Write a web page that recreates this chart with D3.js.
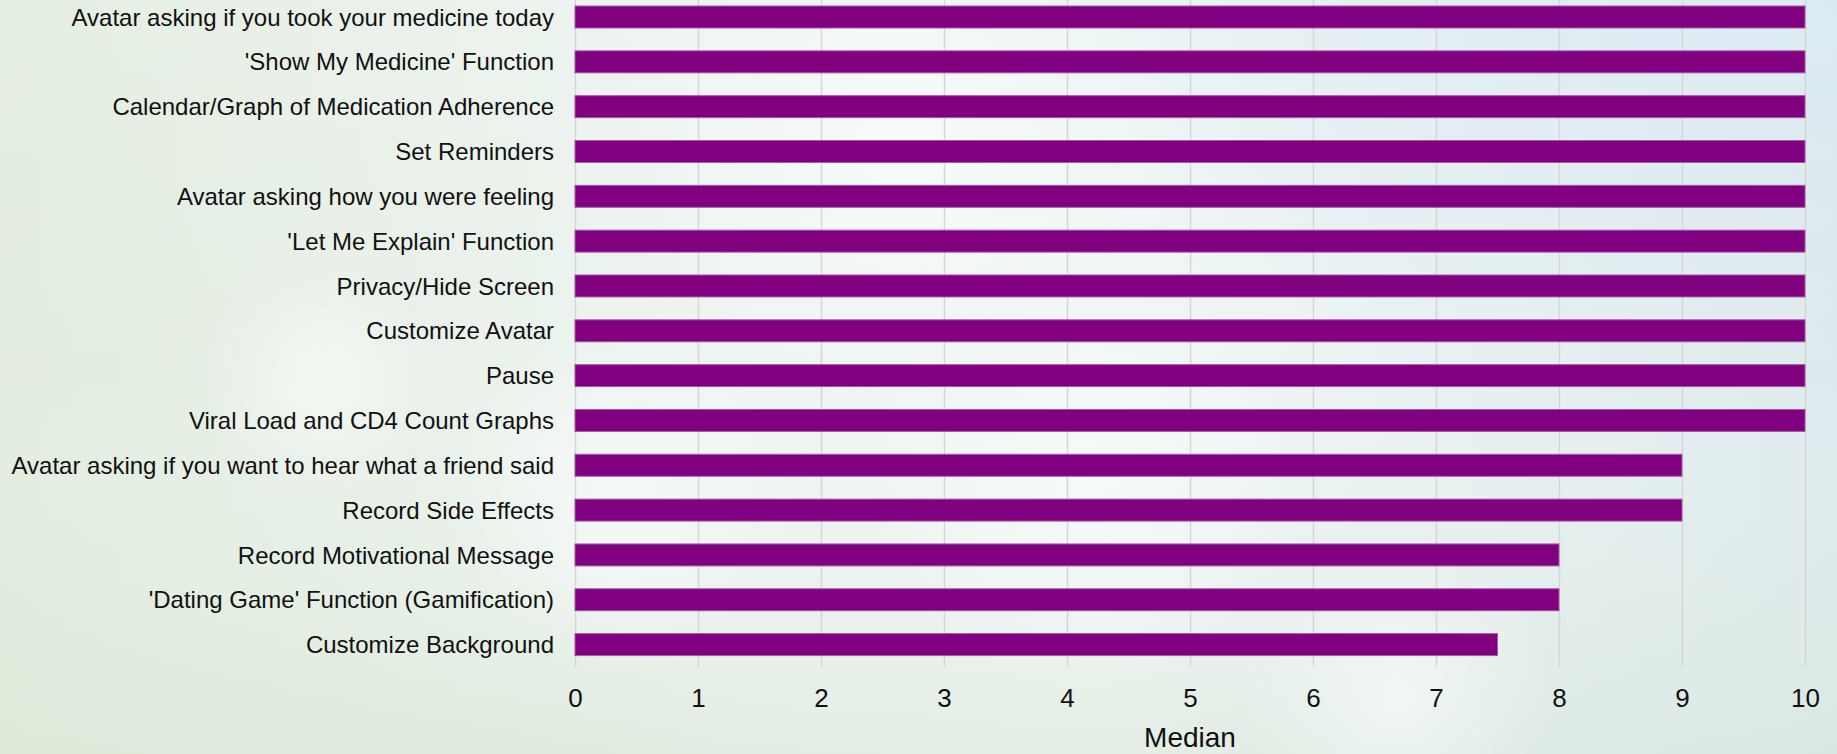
<!DOCTYPE html>
<html>
<head>
<meta charset="utf-8">
<script src="https://cdn.jsdelivr.net/npm/d3@7"></script>
<style>
  html, body { margin: 0; padding: 0; overflow: hidden; }
  svg { display: block; }
  text { font-family: "Liberation Sans", Arial, sans-serif; fill: #111; }
</style>
</head>
<body>
<svg id="chart" width="1837" height="754"></svg>
<script>
// chart data, top to bottom
var features = [
  "Avatar asking if you took your medicine today",
  "'Show My Medicine' Function",
  "Calendar/Graph of Medication Adherence",
  "Set Reminders",
  "Avatar asking how you were feeling",
  "'Let Me Explain' Function",
  "Privacy/Hide Screen",
  "Customize Avatar",
  "Pause",
  "Viral Load and CD4 Count Graphs",
  "Avatar asking if you want to hear what a friend said",
  "Record Side Effects",
  "Record Motivational Message",
  "'Dating Game' Function (Gamification)",
  "Customize Background"
];
var medians = [10, 10, 10, 10, 10, 10, 10, 10, 10, 10, 9, 9, 8, 8, 7.5];
var xTicks = [0, 1, 2, 3, 4, 5, 6, 7, 8, 9, 10];

var svg = d3.select("#chart"),
    width = +svg.attr("width"),
    height = +svg.attr("height");

var data = features.map(function(f, i) { return { name: f, value: medians[i] }; });

// background: soft green / white / blue wash
var defs = svg.append("defs");
var bgH = defs.append("linearGradient").attr("id", "bgH")
  .attr("x1", "0").attr("y1", "0").attr("x2", "1").attr("y2", "0");
bgH.append("stop").attr("offset", "0%").attr("stop-color", "#dfeadb");
bgH.append("stop").attr("offset", "40%").attr("stop-color", "#ebf3ef");
bgH.append("stop").attr("offset", "62%").attr("stop-color", "#edf5f3");
bgH.append("stop").attr("offset", "100%").attr("stop-color", "#dae8ec");

var bgV = defs.append("linearGradient").attr("id", "bgV")
  .attr("x1", "0").attr("y1", "0").attr("x2", "0").attr("y2", "1");
bgV.append("stop").attr("offset", "0%").attr("stop-color", "#ffffff").attr("stop-opacity", 0.2);
bgV.append("stop").attr("offset", "50%").attr("stop-color", "#ffffff").attr("stop-opacity", 0.12);
bgV.append("stop").attr("offset", "100%").attr("stop-color", "#d8e6d4").attr("stop-opacity", 0.45);

var glow = defs.append("radialGradient").attr("id", "glow");
glow.append("stop").attr("offset", "0%").attr("stop-color", "#ffffff").attr("stop-opacity", 0.5);
glow.append("stop").attr("offset", "100%").attr("stop-color", "#ffffff").attr("stop-opacity", 0);

var tr = defs.append("radialGradient").attr("id", "blueCorner")
  .attr("cx", "1").attr("cy", "0").attr("r", "0.5");
tr.append("stop").attr("offset", "0%").attr("stop-color", "#d4e6f0").attr("stop-opacity", 0.9);
tr.append("stop").attr("offset", "100%").attr("stop-color", "#d4e6f0").attr("stop-opacity", 0);

svg.append("rect").attr("width", width).attr("height", height).attr("fill", "url(#bgH)");
svg.append("rect").attr("width", width).attr("height", height).attr("fill", "url(#blueCorner)");
svg.append("rect").attr("width", width).attr("height", height).attr("fill", "url(#bgV)");

// a few faint light spots
var spots = [[900, 150, 260], [1080, 480, 220], [620, 500, 180], [1400, 700, 160], [320, 380, 120]];
svg.append("g").selectAll("circle").data(spots).enter().append("circle")
  .attr("cx", function(d) { return d[0]; })
  .attr("cy", function(d) { return d[1]; })
  .attr("r", function(d) { return d[2]; })
  .attr("fill", "url(#glow)");

// scales
var plotLeft = 575, plotRight = 1805, plotTop = -5.4, plotBottom = 667;

var x = d3.scaleLinear().domain([0, 10]).range([plotLeft, plotRight]);
var y = d3.scaleBand()
  .domain(features)
  .range([plotTop, plotBottom])
  .paddingInner(0.51)
  .paddingOuter(0.255);

// vertical gridlines
svg.append("g")
  .attr("class", "grid")
  .attr("transform", "translate(0," + plotBottom + ")")
  .call(d3.axisBottom(x).tickValues(xTicks).tickSize(-(plotBottom - plotTop)).tickFormat(""))
  .call(function(g) {
    g.select(".domain").remove();
    g.selectAll("line").attr("stroke", "#d6d6d6").attr("stroke-width", 1.5);
  });

// bars
svg.append("g").selectAll("rect")
  .data(data)
  .enter()
  .append("rect")
    .attr("x", x(0))
    .attr("y", function(d) { return y(d.name); })
    .attr("width", function(d) { return x(d.value) - x(0); })
    .attr("height", y.bandwidth())
    .attr("fill", "#800080")
    .attr("stroke", "#a35aa8")
    .attr("stroke-width", 1);

// category labels
svg.append("g")
  .attr("transform", "translate(" + (plotLeft - 21) + ",0)")
  .call(d3.axisLeft(y).tickSize(0).tickPadding(0))
  .call(function(g) {
    g.select(".domain").remove();
    g.selectAll("text")
      .style("font-size", "24px")
      .style("font-family", "'Liberation Sans', Arial, sans-serif")
      .attr("fill", "#111")
      .attr("dy", "0.36em");
  });

// x tick labels
svg.append("g")
  .attr("transform", "translate(0," + plotBottom + ")")
  .call(d3.axisBottom(x).tickValues(xTicks).tickSize(0).tickPadding(0))
  .call(function(g) {
    g.select(".domain").remove();
    g.selectAll("text")
      .attr("y", 40)
      .attr("dy", 0)
      .style("font-size", "26px")
      .style("font-family", "'Liberation Sans', Arial, sans-serif")
      .attr("fill", "#111");
  });

// axis title
svg.append("text")
  .attr("x", (plotLeft + plotRight) / 2)
  .attr("y", 747)
  .attr("text-anchor", "middle")
  .style("font-size", "28px")
  .text("Median");
</script>
</body>
</html>
